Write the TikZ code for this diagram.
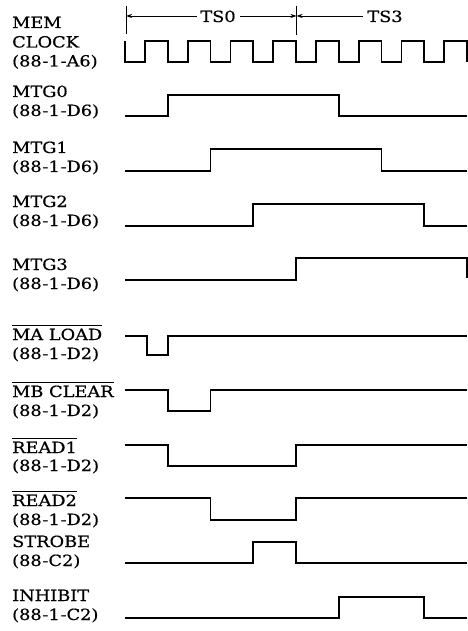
\documentclass[tikz,border=0pt]{standalone}
\usepackage{fontspec}
\setmainfont{DejaVu Serif}[FakeStretch=1.15,FakeBold=0.5]
\usetikzlibrary{arrows.meta}
\newcommand{\hy}{\kern0.8pt-}
\newcommand{\ovl}[1]{\leavevmode\vbox{\hrule height 1.2pt\kern2.6pt\hbox{#1}}}
\begin{document}
\begin{tikzpicture}[x=1bp,y=-1bp,
  lbl/.style={anchor=base west, inner sep=0pt, font=\fontsize{15.5}{18}\selectfont},
  ts/.style={anchor=base, inner sep=0pt, font=\fontsize{15.5}{18}\selectfont},
  wave/.style={line width=1.9bp, line join=miter},
  dimline/.style={line width=0.8bp},
  tip/.style={-{Stealth[length=6bp,width=4bp]}}
]
\useasboundingbox[fill=white] (0,0) rectangle (468,631);
% time grid
\def\ta{125}\def\tb{167.75}\def\tc{210.5}\def\td{253.25}\def\te{296}
\def\tf{338.75}\def\tg{381.5}\def\th{424.25}\def\ti{467}

% labels
\node[lbl] (l1a) at (12,28) {MEM};
\node[lbl] (l1b) at (12,47.5) {CLOCK};
\node[lbl] (l1c) at (12,66.5) {(88\hy1\hy A6)};
\node[lbl] (l2a) at (12,97) {MTG0};
\node[lbl] (l2b) at (12,116) {(88\hy1\hy D6)};
\node[lbl] (l3a) at (12,153) {MTG1};
\node[lbl] (l3b) at (12,172) {(88\hy1\hy D6)};
\node[lbl] (l4a) at (12,207) {MTG2};
\node[lbl] (l4b) at (12,226) {(88\hy1\hy D6)};
\node[lbl] (l5a) at (12,270) {MTG3};
\node[lbl] (l5b) at (12,289) {(88\hy1\hy D6)};
\node[lbl] (l6a) at (12,340) {\ovl{MA LOAD}};
\node[lbl] (l6b) at (12,359) {(88\hy1\hy D2)};
\node[lbl] (l7a) at (12,397) {\ovl{MB CLEAR}};
\node[lbl] (l7b) at (12,416) {(88\hy1\hy D2)};
\node[lbl] (l8a) at (12,453) {\ovl{READ1}};
\node[lbl] (l8b) at (12,471) {(88\hy1\hy D2)};
\node[lbl] (l9a) at (12,506) {\ovl{READ2}};
\node[lbl] (l9b) at (12,525) {(88\hy1\hy D2)};
\node[lbl] (l10a) at (12,547) {STROBE};
\node[lbl] (l10b) at (12,566) {(88\hy C2)};
\node[lbl] (l11a) at (12,601) {INHIBIT};
\node[lbl] (l11b) at (12,620) {(88\hy1\hy C2)};

% time-slot markers
\coordinate (k0t) at (126,6);   \coordinate (k0b) at (126,34);
\coordinate (k1t) at (296.5,6); \coordinate (k1b) at (296.5,35);
\draw[dimline] (k0t) -- (k0b);
\draw[dimline] (k1t) -- (k1b);
\node[ts] (ts0) at (218,22) {TS0};
\node[ts] (ts3) at (385,22) {TS3};
\coordinate (a0) at (126,16);
\coordinate (a1) at (296.5,16);
\draw[dimline,tip] (ts0.west |- a0) ++(-3,0) -- (a0);
\draw[dimline,tip] (ts0.east |- a1) ++(4,0) -- (a1);
\draw[dimline,tip] (ts3.west |- a1) ++(-4,0) -- (a1);

% MEM CLOCK
\draw[wave] (\ta,41)
  foreach \k in {0,...,7} { -- ++(0,21) -- ++(20,0) -- ++(0,-21) -- ++(22.75,0) }
  -- ++(0,21);

% MTG0..MTG3
\draw[wave] (\ta,116) -- (\tb,116) -- (\tb,95) -- (\tf,95) -- (\tf,116) -- (\ti,116);
\draw[wave] (\ta,171) -- (\tc,171) -- (\tc,149) -- (\tg,149) -- (\tg,171) -- (\ti,171);
\draw[wave] (\ta,226) -- (\td,226) -- (\td,204) -- (\th,204) -- (\th,226) -- (\ti,226);
\draw[wave] (\ta,280) -- (\te,280) -- (\te,258) -- (\ti,258) -- (\ti,278);

% MA LOAD
\draw[wave] (\ta,336) -- (147,336) -- (147,355) -- (\tb,355) -- (\tb,336) -- (\ti,336);
% MB CLEAR
\draw[wave] (\ta,390) -- (\tb,390) -- (\tb,411) -- (\tc,411) -- (\tc,390) -- (\ti,390);
% READ1
\draw[wave] (\ta,445) -- (\tb,445) -- (\tb,466) -- (\te,466) -- (\te,445) -- (\ti,445);
% READ2
\draw[wave] (\ta,498) -- (\tc,498) -- (\tc,520) -- (\te,520) -- (\te,498) -- (\ti,498);
% STROBE
\draw[wave] (\ta,563) -- (\td,563) -- (\td,542) -- (\te,542) -- (\te,563) -- (\ti,563);
% INHIBIT
\draw[wave] (\ta,618) -- (\tf,618) -- (\tf,597) -- (\th,597) -- (\th,618) -- (\ti,618);
\end{tikzpicture}
\end{document}
